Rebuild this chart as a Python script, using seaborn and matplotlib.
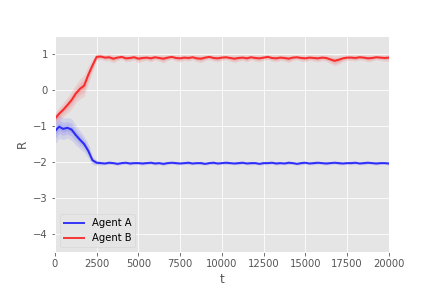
"""Recompensa R de dos agentes a lo largo de t."""

import matplotlib
matplotlib.use("Agg")
import matplotlib.pyplot as plt
import numpy as np
import pandas as pd
import seaborn as sns

plt.style.use("ggplot")

# pasos de tiempo (cada 250)
t = list(range(0, 20001, 250))

agent_a = [
    -1.15, -1.02, -1.08, -1.05, -1.10, -1.25, -1.38, -1.50, -1.69, -1.95, -2.02,
    -2.03, -2.04, -2.02, -2.03, -2.05, -2.03, -2.02, -2.04, -2.03, -2.03,
    -2.04, -2.03, -2.02, -2.04, -2.03, -2.05, -2.03, -2.02, -2.03, -2.04,
    -2.03, -2.02, -2.04, -2.03, -2.03, -2.05, -2.03, -2.02, -2.04, -2.03,
    -2.02, -2.03, -2.04, -2.03, -2.02, -2.04, -2.03, -2.03, -2.05, -2.03,
    -2.03, -2.02, -2.04, -2.03, -2.04, -2.02, -2.03, -2.05, -2.03, -2.02,
    -2.04, -2.03, -2.02, -2.03, -2.04, -2.03, -2.02, -2.03, -2.04, -2.03,
    -2.03, -2.02, -2.04, -2.03, -2.02, -2.03, -2.04, -2.03, -2.03, -2.04,
]
agent_b = [
    -0.80, -0.66, -0.55, -0.42, -0.28, -0.10, 0.03, 0.12, 0.42, 0.68, 0.92,
    0.93, 0.90, 0.91, 0.87, 0.90, 0.92, 0.88, 0.89, 0.91, 0.87,
    0.89, 0.90, 0.88, 0.91, 0.89, 0.87, 0.90, 0.92, 0.89, 0.88,
    0.90, 0.89, 0.91, 0.88, 0.87, 0.90, 0.92, 0.89, 0.88, 0.90,
    0.91, 0.89, 0.87, 0.89, 0.90, 0.88, 0.91, 0.89, 0.88, 0.90,
    0.92, 0.89, 0.88, 0.90, 0.89, 0.87, 0.90, 0.91, 0.89, 0.88,
    0.90, 0.89, 0.88, 0.90, 0.89, 0.85, 0.81, 0.84, 0.88, 0.90,
    0.90, 0.89, 0.91, 0.90, 0.88, 0.89, 0.91, 0.90, 0.89, 0.90,
]

# dispersion entre corridas
spread_a = [
    0.35, 0.32, 0.30, 0.28, 0.30, 0.28, 0.25, 0.22, 0.20, 0.12, 0.07,
    0.05, 0.04, 0.05, 0.04, 0.05, 0.04, 0.04, 0.05, 0.04, 0.04,
    0.05, 0.04, 0.04, 0.05, 0.04, 0.05, 0.04, 0.04, 0.05, 0.04,
    0.04, 0.05, 0.04, 0.04, 0.05, 0.04, 0.04, 0.05, 0.04, 0.04,
    0.05, 0.04, 0.04, 0.05, 0.04, 0.04, 0.05, 0.04, 0.04, 0.05,
    0.04, 0.04, 0.05, 0.04, 0.04, 0.05, 0.04, 0.04, 0.05, 0.04,
    0.04, 0.05, 0.04, 0.04, 0.05, 0.04, 0.04, 0.05, 0.04, 0.04,
    0.05, 0.04, 0.04, 0.05, 0.04, 0.04, 0.05, 0.04, 0.04, 0.05,
]
spread_b = [
    0.15, 0.18, 0.20, 0.22, 0.25, 0.25, 0.28, 0.30, 0.25, 0.18, 0.10,
    0.08, 0.09, 0.10, 0.12, 0.08, 0.07, 0.10, 0.09, 0.08, 0.12,
    0.09, 0.08, 0.10, 0.07, 0.09, 0.12, 0.08, 0.07, 0.09, 0.10,
    0.08, 0.09, 0.07, 0.10, 0.11, 0.08, 0.07, 0.09, 0.10, 0.08,
    0.07, 0.09, 0.11, 0.09, 0.08, 0.10, 0.07, 0.09, 0.10, 0.08,
    0.07, 0.09, 0.10, 0.08, 0.09, 0.11, 0.08, 0.07, 0.09, 0.10,
    0.08, 0.09, 0.10, 0.08, 0.09, 0.12, 0.14, 0.12, 0.09, 0.08,
    0.08, 0.09, 0.07, 0.08, 0.10, 0.09, 0.07, 0.08, 0.09, 0.10,
]

df = pd.DataFrame({
    "t": t * 2,
    "R": agent_a + agent_b,
    "agent": ["Agent A"] * len(t) + ["Agent B"] * len(t),
})

fig, ax = plt.subplots(figsize=(6, 4), dpi=72)
fig.subplots_adjust(left=0.127, right=0.9, top=0.875, bottom=0.125)

for mean, spread, color in [(agent_a, spread_a, "blue"), (agent_b, spread_b, "red")]:
    mean = np.array(mean)
    spread = np.array(spread)
    for k in (1.0, 0.6, 0.3):
        ax.fill_between(t, mean - k * spread, mean + k * spread,
                        color=color, alpha=0.09, linewidth=0)

sns.lineplot(data=df, x="t", y="R", hue="agent",
             palette={"Agent A": "blue", "Agent B": "red"},
             linewidth=2, alpha=0.75, ax=ax)

ax.set_xlim(0, 20000)
ax.set_ylim(-4.5, 1.5)
ax.set_xlabel("t")
ax.set_ylabel("R")
ax.legend(loc="lower left", title=None)

plt.savefig("out.png", dpi=72)
plt.close(fig)
